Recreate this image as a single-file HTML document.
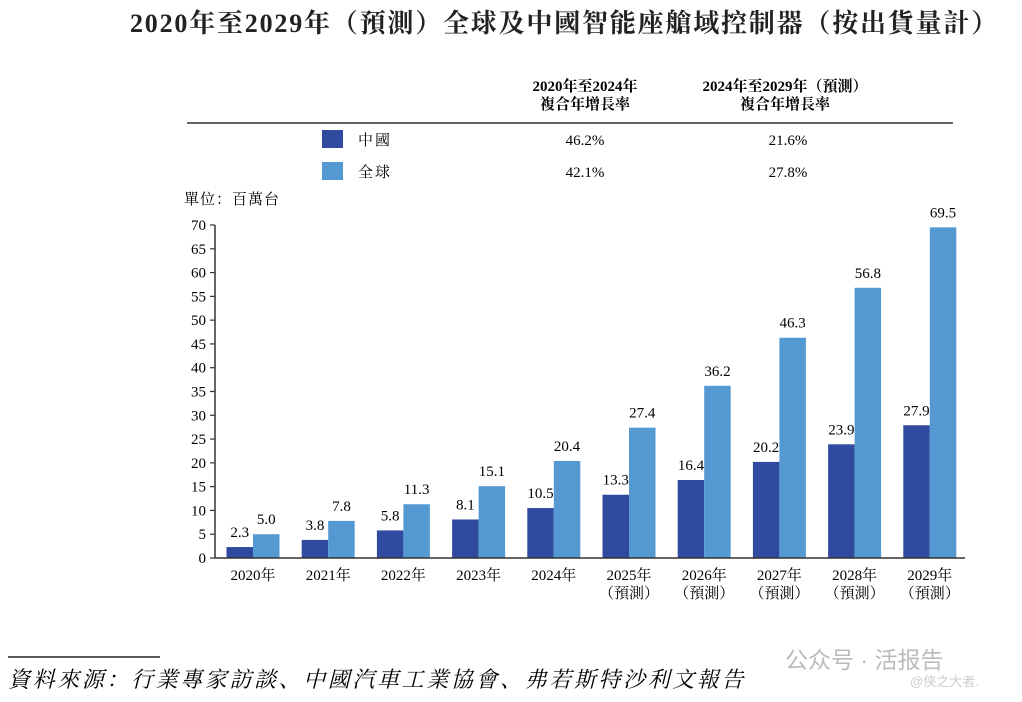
<!DOCTYPE html>
<html><head><meta charset="utf-8"><style>
body{margin:0;background:#fff;width:1022px;height:702px;overflow:hidden;font-family:"Liberation Serif","Noto Serif CJK SC",serif;color:#222}
.t{position:absolute;white-space:nowrap}
</style></head><body>
<div class="t" style="left:130px;top:3px;font-size:26px;font-weight:bold;letter-spacing:1.8px">2020年至2029年（預測）全球及中國智能座艙域控制器（按出貨量計）</div>
<svg width="1022" height="702" style="position:absolute;left:0;top:0" id="svg" font-family="Liberation Serif, Noto Serif CJK SC, serif">
<g>
<text x="585" y="91" font-size="15" font-weight="bold" text-anchor="middle">2020年至2024年</text>
<text x="585" y="109" font-size="15" font-weight="bold" text-anchor="middle">複合年增長率</text>
<text x="785" y="91" font-size="15" font-weight="bold" text-anchor="middle">2024年至2029年（預測）</text>
<text x="785" y="109" font-size="15" font-weight="bold" text-anchor="middle">複合年增長率</text>
<line x1="187" y1="123" x2="953" y2="123" stroke="#333" stroke-width="1.5"/>
<rect x="322" y="130" width="21" height="18" fill="#2f4a9e"/>
<text x="358" y="145" font-size="15" letter-spacing="2">中國</text>
<text x="585" y="145" font-size="15" text-anchor="middle">46.2%</text>
<text x="788" y="145" font-size="15" text-anchor="middle">21.6%</text>
<rect x="322" y="162" width="21" height="18" fill="#5599d2"/>
<text x="358" y="177" font-size="15" letter-spacing="2">全球</text>
<text x="585" y="177" font-size="15" text-anchor="middle">42.1%</text>
<text x="788" y="177" font-size="15" text-anchor="middle">27.8%</text>
</g>
<text x="184" y="204" font-size="15" letter-spacing="1">單位：百萬台</text>
<g id="plot"></g>
<line x1="8" y1="657" x2="160" y2="657" stroke="#222" stroke-width="1.5"/>
<text x="8" y="687" font-size="22" font-style="italic" letter-spacing="2.6">資料來源：行業專家訪談、中國汽車工業協會、弗若斯特沙利文報告</text>
<text x="785" y="668" font-size="23" fill="#bbb" font-family="Liberation Sans, Noto Sans CJK SC, sans-serif">公众号 · 活报告</text>
<text x="910" y="686" font-size="13" fill="#ccc" font-family="Liberation Sans, Noto Sans CJK SC, sans-serif">@侠之大者.</text>
</svg>
<script>
const categories=["2020年","2021年","2022年","2023年","2024年","2025年","2026年","2027年","2028年","2029年"];
const forecast=[false,false,false,false,false,true,true,true,true,true];
const china=[2.3,3.8,5.8,8.1,10.5,13.3,16.4,20.2,23.9,27.9];
const global=[5.0,7.8,11.3,15.1,20.4,27.4,36.2,46.3,56.8,69.5];
const yTicks=[0,5,10,15,20,25,30,35,40,45,50,55,60,65,70];
const NS="http://www.w3.org/2000/svg";
const g=document.getElementById('plot');
const x0=215,y0=558,yTop=225,yMax=70,step=75.2,bw=26.5,firstC=253;
const y=v=>y0-(v/yMax)*(y0-yTop);
const cx=i=>firstC+i*step;
function mk(t,a,p){const e=document.createElementNS(NS,t);for(const k in a)e.setAttribute(k,a[k]);(p||g).appendChild(e);return e;}
const ax=mk('line',{x1:x0,y1:yTop,x2:x0,y2:y0,stroke:'#333','stroke-width':1.5});


yTicks.forEach(v=>{
 const tk=mk('line',{x1:x0-5,y1:y(v),x2:x0,y2:y(v),stroke:'#333','stroke-width':1.2});
 
 
 const t=mk('text',{x:x0-9,y:y(v)+5,'font-size':15,'text-anchor':'end'});t.textContent=v;
 
 
});
categories.forEach((c,i)=>{
 const b1=mk('rect',{x:cx(i)-bw,y:y(china[i]),width:bw,height:y0-y(china[i]),fill:'#2f4a9e'});
 
 
 const b2=mk('rect',{x:cx(i),y:y(global[i]),width:bw,height:y0-y(global[i]),fill:'#5599d2'});
 
 
 const l1=mk('text',{x:cx(i)-bw/2,y:y(china[i])-10,'font-size':15,'text-anchor':'middle'});l1.textContent=china[i].toFixed(1);
 
 
 const l2=mk('text',{x:cx(i)+bw/2,y:y(global[i])-10,'font-size':15,'text-anchor':'middle'});l2.textContent=global[i].toFixed(1);
 
 
 const xl=mk('text',{x:cx(i),y:y0+22,'font-size':15,'text-anchor':'middle'});xl.textContent=c;
 
 
 if(forecast[i]){const f=mk('text',{x:cx(i),y:y0+40,'font-size':15,'text-anchor':'middle'});f.textContent='（預測）';
 
 }
});
const xa=mk('line',{x1:x0,y1:y0,x2:965,y2:y0,stroke:'#333','stroke-width':1.5});


</script>
</body></html>
